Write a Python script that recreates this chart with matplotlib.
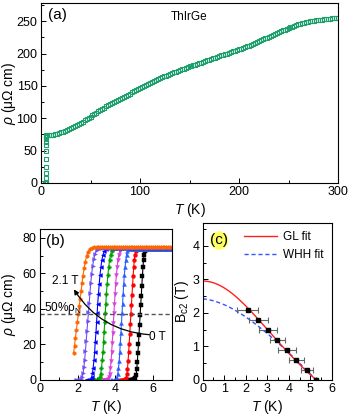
import numpy as np
import matplotlib
matplotlib.use("Agg")
import matplotlib.pyplot as plt
from matplotlib.ticker import AutoMinorLocator, MultipleLocator

plt.rcParams['font.family'] = ['Liberation Sans', 'DejaVu Sans']
plt.rcParams['mathtext.fontset'] = 'custom'
plt.rcParams['mathtext.rm'] = 'Liberation Sans'
plt.rcParams['mathtext.it'] = 'Liberation Sans:italic'
plt.rcParams['axes.linewidth'] = 0.8

# ---------------- panel (a) data ----------------
T_sc = [2.0, 3.6, 4.6, 5.0, 5.0, 5.0, 5.05, 5.05, 5.1, 5.1, 5.15, 5.2, 5.25, 5.3, 5.5]
rho_sc = [0, 0, 0, 2, 7, 15, 25, 37, 49, 58, 64, 68, 71, 73, 74]
T_a = np.arange(6, 302, 2)
rho_a = [74.0, 74.1, 74.3, 74.7, 75.3, 76.0, 76.9, 78.0, 79.3, 80.6,
         82.0, 83.5, 85.0, 86.6, 88.2, 89.8, 91.4, 93.0, 94.9, 96.8,
         98.7, 100.6, 102.5, 104.5, 106.5, 108.5, 110.5, 112.5, 114.4, 116.3,
         118.2, 120.1, 122.0, 123.6, 125.2, 126.8, 128.4, 130.0, 131.6, 133.2,
         134.8, 136.4, 138.0, 139.8, 141.6, 143.4, 145.2, 147.0, 148.6, 150.2,
         151.8, 153.4, 155.0, 156.4, 157.8, 159.2, 160.6, 162.0, 163.3, 164.6,
         165.9, 167.2, 168.5, 169.7, 170.9, 172.1, 173.3, 174.5, 175.6, 176.7,
         177.8, 178.9, 180.0, 181.0, 182.0, 183.0, 184.0, 185.0, 186.1, 187.2,
         188.3, 189.4, 190.5, 191.6, 192.7, 193.8, 194.9, 196.0, 197.0, 198.0,
         199.0, 200.0, 201.0, 202.1, 203.2, 204.3, 205.4, 206.5, 207.6, 208.7,
         209.8, 210.9, 212.0, 213.4, 214.8, 216.2, 217.6, 219.0, 220.4, 221.8,
         223.2, 224.6, 226.0, 227.4, 228.8, 230.2, 231.6, 233.0, 234.3, 235.6,
         236.9, 238.2, 239.5, 240.6, 241.7, 242.8, 243.9, 245.0, 245.8, 246.6,
         247.4, 248.2, 249.0, 249.5, 250.0, 250.5, 251.0, 251.5, 251.9, 252.3,
         252.7, 253.1, 253.5, 253.9, 254.3, 254.7, 255.1, 255.5]

# ---------------- panel (b) data ----------------
T_0T = [4.75, 4.82, 4.89, 4.95, 5.01, 5.06, 5.10, 5.13, 5.16, 5.19, 5.22, 5.25, 5.28, 5.31, 5.34, 5.37, 5.40, 5.43, 5.46, 5.49, 5.52, 5.56, 5.61, 5.67]
rho_0T = [0, 0, 0, 0, 0.3, 1.2, 3, 6, 10, 15, 20, 25.5, 31, 36.5, 42, 47.5, 53, 58.5, 63.5, 67.5, 70.5, 72.5, 73.4, 73.7]
T_03T = [4.26, 4.33, 4.40, 4.46, 4.52, 4.57, 4.61, 4.64, 4.67, 4.70, 4.73, 4.76, 4.79, 4.82, 4.85, 4.88, 4.91, 4.94, 4.97, 5.00, 5.03, 5.07, 5.12, 5.18]
rho_03T = [0, 0, 0, 0, 0.3, 1.3, 3.2, 6.3, 10.5, 15.5, 20.5, 26, 31.5, 37, 42.5, 48, 53.5, 58.5, 63.5, 67.5, 70.5, 72.5, 73.5, 73.9]
T_06T = [3.77, 3.84, 3.91, 3.97, 4.03, 4.08, 4.12, 4.16, 4.20, 4.23, 4.26, 4.29, 4.32, 4.35, 4.38, 4.41, 4.44, 4.47, 4.51, 4.55, 4.59, 4.64, 4.70, 4.77]
rho_06T = [0, 0, 0, 0, 0.4, 1.4, 3.5, 6.5, 10.5, 15.5, 21, 26.5, 32, 37.5, 43, 48.5, 54, 59, 63.5, 67.5, 70.5, 72.6, 73.6, 74.0]
T_09T = [3.34, 3.41, 3.48, 3.54, 3.60, 3.65, 3.69, 3.73, 3.77, 3.80, 3.83, 3.86, 3.89, 3.92, 3.95, 3.98, 4.01, 4.05, 4.09, 4.13, 4.18, 4.23, 4.30, 4.38]
rho_09T = [0, 0, 0, 0, 0.4, 1.5, 3.5, 6.5, 10.5, 15.5, 21, 26.5, 32, 37.5, 43, 48.5, 54, 59, 63.5, 67.5, 70.5, 72.6, 73.7, 74.1]
T_12T = [2.87, 2.94, 3.01, 3.07, 3.13, 3.18, 3.22, 3.26, 3.30, 3.34, 3.37, 3.40, 3.43, 3.46, 3.49, 3.52, 3.56, 3.60, 3.64, 3.69, 3.74, 3.80, 3.87, 3.96]
rho_12T = [0, 0, 0, 0, 0.5, 1.6, 3.6, 6.8, 11, 16, 21.5, 27, 32.5, 37.5, 43, 48.5, 54, 59, 63.5, 67.5, 70.5, 72.7, 73.8, 74.2]
T_15T = [2.43, 2.50, 2.57, 2.63, 2.69, 2.74, 2.78, 2.82, 2.86, 2.90, 2.93, 2.97, 3.00, 3.03, 3.06, 3.10, 3.14, 3.18, 3.23, 3.28, 3.34, 3.41, 3.49, 3.59]
rho_15T = [0, 0, 0, 0, 0.5, 1.7, 3.8, 7, 11, 16, 21.5, 27, 32.5, 37.5, 43, 48.5, 54, 59, 63.5, 67.5, 70.5, 72.7, 73.9, 74.3]
T_18T = [1.90, 1.98, 2.06, 2.13, 2.19, 2.24, 2.29, 2.33, 2.37, 2.41, 2.45, 2.49, 2.53, 2.57, 2.61, 2.65, 2.69, 2.74, 2.79, 2.85, 2.92, 3.00, 3.10, 3.22]
rho_18T = [0, 0, 0, 0, 0.5, 1.8, 4, 7.5, 11.5, 16.5, 22, 27.5, 33, 38, 43.5, 49, 54.5, 59.5, 64, 68, 71, 73, 74, 74.4]
T_21T = [1.78, 1.83, 1.88, 1.93, 1.98, 2.03, 2.08, 2.13, 2.18, 2.23, 2.28, 2.34, 2.40, 2.47, 2.55, 2.64, 2.74, 2.85]
rho_21T = [15, 19.4, 23.8, 28.2, 32.6, 37, 41.4, 45.8, 50.2, 54.6, 58.8, 63, 66.6, 69.8, 72.3, 73.8, 74.4, 74.6]
rho_normal = [73.7, 73.9, 74.0, 74.1, 74.2, 74.3, 74.4, 74.6]
T_normal = np.round(np.arange(1.9, 7.05, 0.1), 2)
fields = ['0 T', '0.3 T', '0.6 T', '0.9 T', '1.2 T', '1.5 T', '1.8 T', '2.1 T']
curve_T = [T_0T, T_03T, T_06T, T_09T, T_12T, T_15T, T_18T, T_21T]
curve_rho = [rho_0T, rho_03T, rho_06T, rho_09T, rho_12T, rho_15T, rho_18T, rho_21T]
curve_colors = ['#000000', '#ff0000', '#2d5cff', '#d93fd9', '#00a000', '#0000ff', '#6f4ff0', '#ff6600']
curve_markers = ['s', 'o', '^', 'v', 'P', '<', '>', 'h']
rho_half = 37

# ---------------- panel (c) data ----------------
B_c2 = [2.1, 1.8, 1.5, 1.2, 0.9, 0.6, 0.3, 0.0]
T_c2 = [2.08, 2.57, 3.03, 3.46, 3.92, 4.35, 4.82, 5.28]
T_err = [0.50, 0.44, 0.42, 0.35, 0.41, 0.34, 0.28, 0.0]
GL_Bc0, GL_Tc = 2.95, 5.27
WHH_Bc0, WHH_Tc = 2.42, 5.27

fig = plt.figure(figsize=(3.49, 4.17), dpi=100)
W, H = 349, 417
ax_a = fig.add_axes([41 / W, 1 - 183 / H, 297 / W, 180 / H])
ax_b = fig.add_axes([40 / W, 1 - 380 / H, 132 / W, 151 / H])
ax_c = fig.add_axes([202.7 / W, 1 - 380 / H, 129.3 / W, 157 / H])

for ax in (ax_a, ax_b, ax_c):
    ax.tick_params(which='both', direction='in', labelsize=9, width=0.7, pad=2.5)
    ax.tick_params(which='major', length=3.5)
    ax.tick_params(which='minor', length=2)
    ax.xaxis.set_minor_locator(AutoMinorLocator(2))
    ax.yaxis.set_minor_locator(AutoMinorLocator(2))

# ---- (a)
green = '#1f9e6e'
ax_a.plot(T_sc, rho_sc, 's', mfc='none', mec=green, ms=3, mew=0.8)
ax_a.plot(T_a, rho_a, 's', mfc='none', mec=green, ms=3, mew=0.8)
ax_a.set_xlim(0, 300)
ax_a.set_ylim(0, 278)
ax_a.xaxis.set_major_locator(MultipleLocator(100))
ax_a.yaxis.set_major_locator(MultipleLocator(50))
ax_a.set_xlabel(r'$T$ (K)', fontsize=10, labelpad=2)
ax_a.set_ylabel(r'$\rho$ (μΩ cm)', fontsize=10)
ax_a.yaxis.set_label_coords(-23 / 297, 0.5)
ax_a.text(17, 259, '(a)', fontsize=11, ha='center', va='center')
ax_a.text(150, 256, 'ThIrGe', fontsize=8.5, ha='center', va='center')

# ---- (b)
for Tl, rl, rn, col, mk in zip(curve_T, curve_rho, rho_normal, curve_colors, curve_markers):
    Tn = T_normal[T_normal > Tl[-1] + 0.05]
    Tall = np.concatenate([Tl, Tn])
    rall = np.concatenate([rl, np.full(len(Tn), rn)])
    ax_b.plot(Tall, rall, '-', color=col, lw=0.8, marker=mk, ms=2.8, mew=0.3, mec=col)
ax_b.axhline(rho_half, color='#555555', lw=1, ls=(0, (3, 2)))
ax_b.set_xlim(0, 7)
ax_b.set_ylim(0, 85)
ax_b.xaxis.set_major_locator(MultipleLocator(2))
ax_b.xaxis.set_minor_locator(MultipleLocator(1))
ax_b.yaxis.set_major_locator(MultipleLocator(20))
ax_b.yaxis.set_minor_locator(MultipleLocator(10))
ax_b.set_xlabel(r'$T$ (K)', fontsize=10, labelpad=2)
ax_b.set_ylabel(r'$\rho$ (μΩ cm)', fontsize=10)
ax_b.yaxis.set_label_coords(-22 / 132, 0.5)
ax_b.text(0.8, 78, '(b)', fontsize=11, ha='center', va='center')
ax_b.text(1.35, 55.5, '2.1 T', fontsize=8.5, ha='center', va='center')
ax_b.text(1.2, 40.8, '50%ρ$_{\\mathrm{N}}$', fontsize=8.5, ha='center', va='center')
ax_b.text(6.25, 24, '0 T', fontsize=8.5, ha='center', va='center')
ax_b.annotate('', xy=(1.8, 51), xytext=(5.8, 25.5),
              arrowprops=dict(arrowstyle='-|>', color='black', lw=0.9,
                              mutation_scale=7,
                              connectionstyle='arc3,rad=-0.25',
                              shrinkA=0, shrinkB=0))

# ---- (c)
T_fit = np.linspace(0, GL_Tc, 300)
t = T_fit / GL_Tc
ax_c.plot(T_fit, GL_Bc0 * (1 - t ** 2) / (1 + t ** 2), color='#ff2020', lw=1.0, label='GL fit', zorder=2)
T_w = np.linspace(0, WHH_Tc, 300)
u = 1 - T_w / WHH_Tc
h = u - 0.153 * u ** 2 - 0.152 * u ** 4
ax_c.plot(T_w, WHH_Bc0 / 0.695 * h, color='#3355ff', lw=1.0, ls=(0, (3, 2)), label='WHH fit', zorder=1)
ax_c.errorbar(T_c2, B_c2, xerr=T_err, fmt='s', color='black', ms=3.5,
              ecolor='#666666', elinewidth=0.8, capsize=2, capthick=0.8, zorder=3)
ax_c.set_xlim(0, 6)
ax_c.set_ylim(0, 4.68)
ax_c.xaxis.set_major_locator(MultipleLocator(1))
ax_c.yaxis.set_major_locator(MultipleLocator(1))
ax_c.set_xlabel(r'$T$ (K)', fontsize=10, labelpad=2)
ax_c.set_ylabel(r'B$_{\mathrm{c2}}$ (T)', fontsize=10)
ax_c.yaxis.set_label_coords(-12 / 129.3, 0.5)
ax_c.text(0.77, 4.16, '(c)', fontsize=11, ha='center', va='center',
          bbox=dict(boxstyle='circle,pad=0.02', fc='#ffff66', ec='none'))
ax_c.legend(loc='upper right', frameon=False, fontsize=8.5, handlelength=2.8,
            borderaxespad=0.3, labelspacing=0.5, handletextpad=0.5)

fig.savefig('out.png', dpi=100)
